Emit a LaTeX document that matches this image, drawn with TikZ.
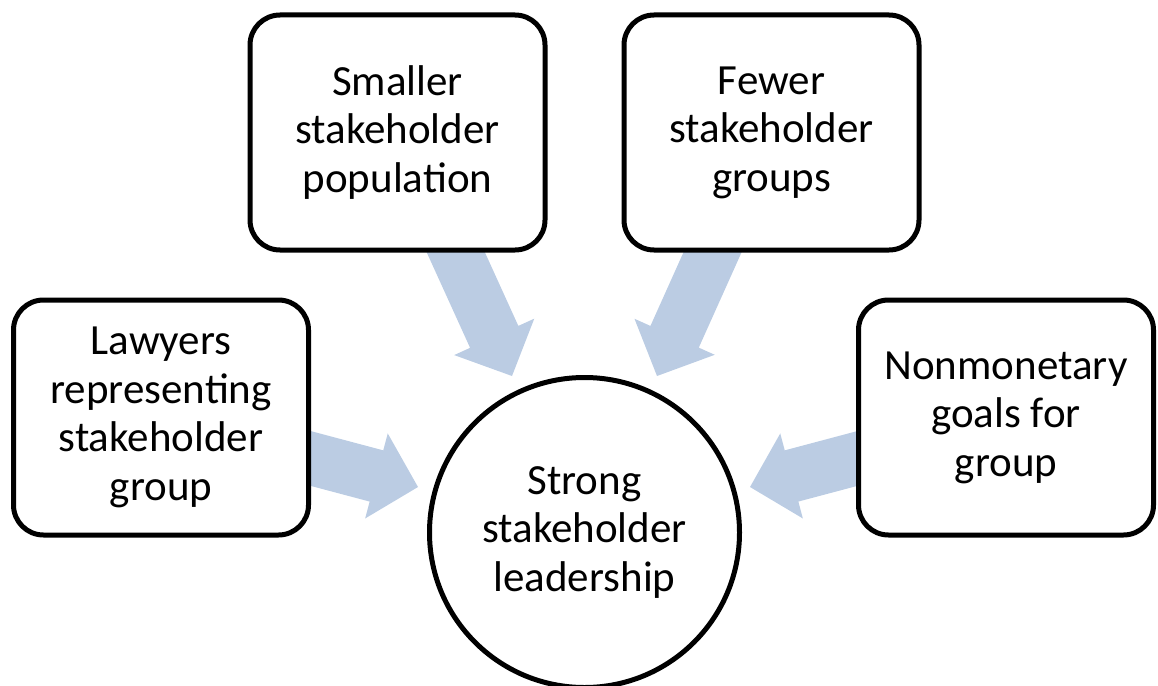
\documentclass[tikz,border=0pt]{standalone}
\usepackage{fontspec}
\setmainfont{Carlito}
\usetikzlibrary{calc}
\definecolor{arrowblue}{HTML}{BBCCE3}
\tikzset{
  box/.style={draw=black, line width=5pt, fill=white, rounded corners=30pt,
    minimum width=295pt, minimum height=235pt, align=center, inner sep=0pt,
    font=\fontsize{43pt}{48.5pt}\selectfont},
  hub/.style={draw=black, line width=5pt, fill=white, circle,
    minimum size=310pt, align=center, inner sep=0pt,
    font=\fontsize{43pt}{48.5pt}\selectfont},
  blockarrow/.style={fill=arrowblue, draw=none}
}
\newcommand{\blockarrow}[2]{%
  \fill[blockarrow]
    ($(#1)!26.5pt!90:(#2)$) --
    ($($(#2)!43pt!(#1)$)!26.5pt!-90:(#1)$) --
    ($($(#2)!43pt!(#1)$)!44pt!-90:(#1)$) --
    (#2) --
    ($($(#2)!43pt!(#1)$)!44pt!90:(#1)$) --
    ($($(#2)!43pt!(#1)$)!26.5pt!90:(#1)$) --
    ($(#1)!26.5pt!-90:(#2)$) -- cycle;}
\begin{document}
\begin{tikzpicture}[x=1pt,y=-1pt]
\useasboundingbox (0,0) rectangle (1158,685);
% arrow end points
\coordinate (s1) at (432,200);
\coordinate (t1) at (512,376);
\coordinate (s2) at (736,200);
\coordinate (t2) at (657,376);
\coordinate (s3) at (260,445);
\coordinate (t3) at (418,487);
\coordinate (s4) at (908,445);
\coordinate (t4) at (750,487);
\blockarrow{s1}{t1}
\blockarrow{s2}{t2}
\blockarrow{s3}{t3}
\blockarrow{s4}{t4}
\node[box] (pop) at (397.5,132.5) {Smaller\\stakeholder\\population};
\node[box] (few) at (771.5,132.5) {Fewer\\stakeholder\\groups};
\node[box] (law) at (161,417.5) {Lawyers\\representing\\stakeholder\\group};
\node[box] (goal) at (1006,417.5) {Nonmonetary\\goals for\\group};
\node[hub] (lead) at (584.5,532.5) {Strong\\stakeholder\\leadership};
\end{tikzpicture}
\end{document}
